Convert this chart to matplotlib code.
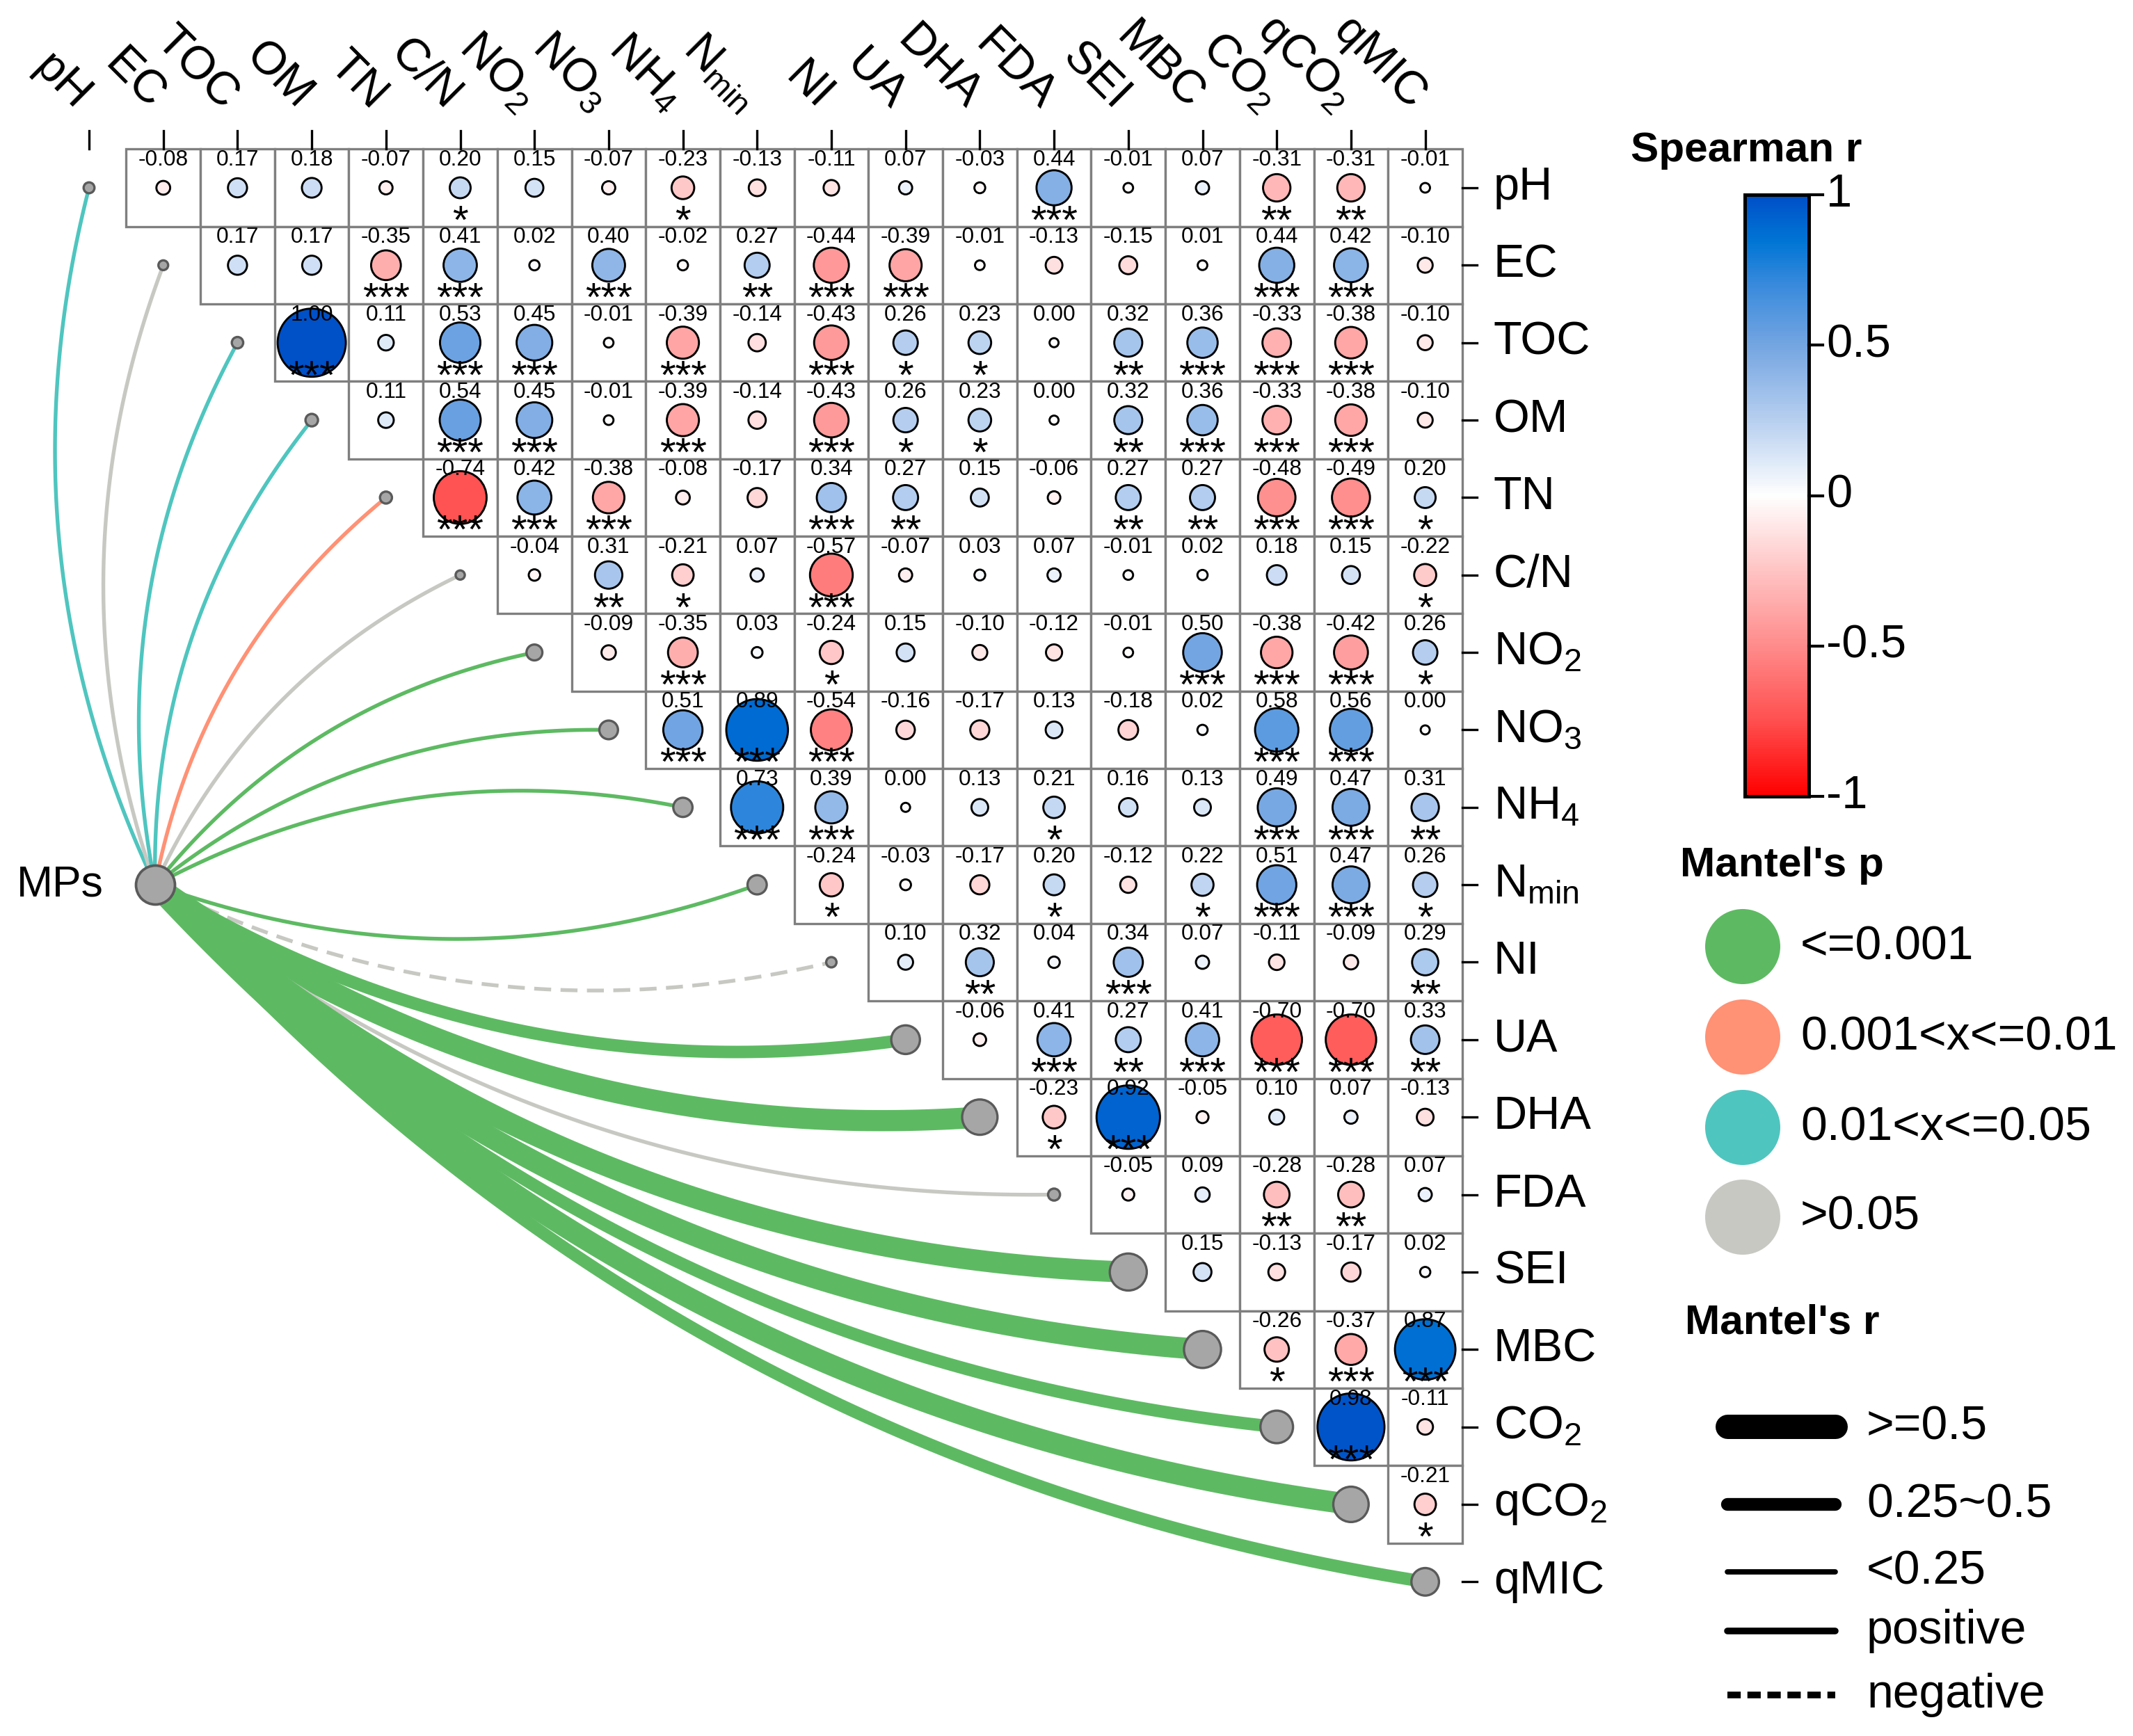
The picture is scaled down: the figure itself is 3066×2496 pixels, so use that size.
import numpy as np
import matplotlib
matplotlib.use("Agg")
import matplotlib.pyplot as plt
from matplotlib.colors import LinearSegmentedColormap
from matplotlib.patches import Rectangle

plt.rcParams["font.family"] = ["Liberation Sans", "DejaVu Sans"]
plt.rcParams["mathtext.fontset"] = "custom"
plt.rcParams["mathtext.rm"] = "Liberation Sans"
plt.rcParams["mathtext.it"] = "Liberation Sans:italic"
plt.rcParams["mathtext.default"] = "regular"

# ---- data ---------------------------------------------------------------
VARS = ["pH", "EC", "TOC", "OM", "TN", "C/N", "NO$_2$", "NO$_3$", "NH$_4$",
        "N$_{min}$", "NI", "UA", "DHA", "FDA", "SEI", "MBC", "CO$_2$",
        "qCO$_2$", "qMIC"]

# Spearman r, upper triangle: row i holds columns i+1 .. 18
R_ROWS = [
    [-0.08, 0.17, 0.18, -0.07, 0.20, 0.15, -0.07, -0.23, -0.13, -0.11, 0.07, -0.03, 0.44, -0.01, 0.07, -0.31, -0.31, -0.01],
    [0.17, 0.17, -0.35, 0.41, 0.02, 0.40, -0.02, 0.27, -0.44, -0.39, -0.01, -0.13, -0.15, 0.01, 0.44, 0.42, -0.10],
    [1.00, 0.11, 0.53, 0.45, -0.01, -0.39, -0.14, -0.43, 0.26, 0.23, 0.00, 0.32, 0.36, -0.33, -0.38, -0.10],
    [0.11, 0.54, 0.45, -0.01, -0.39, -0.14, -0.43, 0.26, 0.23, 0.00, 0.32, 0.36, -0.33, -0.38, -0.10],
    [-0.74, 0.42, -0.38, -0.08, -0.17, 0.34, 0.27, 0.15, -0.06, 0.27, 0.27, -0.48, -0.49, 0.20],
    [-0.04, 0.31, -0.21, 0.07, -0.57, -0.07, 0.03, 0.07, -0.01, 0.02, 0.18, 0.15, -0.22],
    [-0.09, -0.35, 0.03, -0.24, 0.15, -0.10, -0.12, -0.01, 0.50, -0.38, -0.42, 0.26],
    [0.51, 0.89, -0.54, -0.16, -0.17, 0.13, -0.18, 0.02, 0.58, 0.56, 0.00],
    [0.73, 0.39, 0.00, 0.13, 0.21, 0.16, 0.13, 0.49, 0.47, 0.31],
    [-0.24, -0.03, -0.17, 0.20, -0.12, 0.22, 0.51, 0.47, 0.26],
    [0.10, 0.32, 0.04, 0.34, 0.07, -0.11, -0.09, 0.29],
    [-0.06, 0.41, 0.27, 0.41, -0.70, -0.70, 0.33],
    [-0.23, 0.92, -0.05, 0.10, 0.07, -0.13],
    [-0.05, 0.09, -0.28, -0.28, 0.07],
    [0.15, -0.13, -0.17, 0.02],
    [-0.26, -0.37, 0.87],
    [0.98, -0.11],
    [-0.21],
]
STAR_ROWS = [
    ["", "", "", "", "*", "", "", "*", "", "", "", "", "***", "", "", "**", "**", ""],
    ["", "", "***", "***", "", "***", "", "**", "***", "***", "", "", "", "", "***", "***", ""],
    ["***", "", "***", "***", "", "***", "", "***", "*", "*", "", "**", "***", "***", "***", ""],
    ["", "***", "***", "", "***", "", "***", "*", "*", "", "**", "***", "***", "***", ""],
    ["***", "***", "***", "", "", "***", "**", "", "", "**", "**", "***", "***", "*"],
    ["", "**", "*", "", "***", "", "", "", "", "", "", "", "*"],
    ["", "***", "", "*", "", "", "", "", "***", "***", "***", "*"],
    ["***", "***", "***", "", "", "", "", "", "***", "***", ""],
    ["***", "***", "", "", "*", "", "", "***", "***", "**"],
    ["*", "", "", "*", "", "*", "***", "***", "*"],
    ["", "**", "", "***", "", "", "", "**"],
    ["", "***", "**", "***", "***", "***", "**"],
    ["*", "***", "", "", "", ""],
    ["", "", "**", "**", ""],
    ["", "", "", ""],
    ["*", "***", "***"],
    ["***", ""],
    ["*"],
]

# Mantel test of MPs against each variable
MANTEL_R = [0.07, 0.05, 0.08, 0.10, 0.09, 0.04, 0.16, 0.21, 0.22, 0.22, -0.06,
            0.39, 0.51, 0.09, 0.54, 0.54, 0.46, 0.51, 0.37]
MANTEL_P = [2, 3, 2, 2, 1, 3, 0, 0, 0, 0, 3, 0, 0, 3, 0, 0, 0, 0, 0]
P_LABELS = ["<=0.001", "0.001<x<=0.01", "0.01<x<=0.05", ">0.05"]
P_COLORS = ["#5DBA62", "#FF9175", "#4FC5BF", "#C8C8C3"]
R_LABELS = [">=0.5", "0.25~0.5", "<0.25", "positive", "negative"]

# ---- layout -------------------------------------------------------------
W, H, DPI = 3066, 2496, 300
PX = DPI / 72.0
X0, CW = 128.0, 106.7      # pixel centre of first column, column width
Y0, RH = 270.0, 111.35     # pixel centre of first row, row height
SRC = (0.89, 9.0)          # MPs node, in cell units

cmap = LinearSegmentedColormap.from_list("spr", [
    (0.0, "#FF0000"), (0.125, "#FF5050"), (0.25, "#FF8C8C"), (0.375, "#FFC4C4"),
    (0.5, "#FFFFFF"), (0.625, "#B8D0F0"), (0.75, "#75A6E2"), (0.85, "#3A8BDD"),
    (0.925, "#0075D5"), (1.0, "#0050C8")])


def to_x(p):
    return (p - X0) / CW


def to_y(p):
    return (p - Y0) / RH


fig = plt.figure(figsize=(W / DPI, H / DPI), dpi=DPI)
ax = fig.add_axes([0, 0, 1, 1])
ax.axis("off")

# correlation cells
xs, ys, rs = [], [], []
for i, row in enumerate(R_ROWS):
    for k, r in enumerate(row):
        j = i + 1 + k
        ax.add_patch(Rectangle((j - 0.5, i - 0.5), 1, 1, fc="white",
                               ec="#7F7F7F", lw=0.8, zorder=1))
        xs.append(j); ys.append(i); rs.append(r)
        ax.text(j, i - 0.36, f"{r:.2f}", ha="center", va="center",
                fontsize=7.6, zorder=5)
        if STAR_ROWS[i][k]:
            ax.text(j, i + 0.59, STAR_ROWS[i][k], ha="center", va="baseline",
                    fontsize=14, zorder=5)
rs = np.array(rs)
ax.scatter(xs, ys, s=((13 + 85 * np.abs(rs)) / PX) ** 2, c=rs, cmap=cmap,
           vmin=-1, vmax=1, edgecolors="black", linewidths=0.7, zorder=3)

# axis ticks and labels
n = len(VARS)
for k in range(n):
    ax.plot([k, k], [-0.5, -0.5 - 0.24], color="black", lw=0.8, zorder=2)
    ax.plot([n - 0.5, n - 0.5 + 0.2], [k, k], color="black", lw=0.8, zorder=2)
    ax.text(k - 0.09, to_y(148), VARS[k], rotation=-45, rotation_mode="anchor",
            ha="right", va="center", fontsize=16)
    ax.text(n - 0.5 + 0.42, k, VARS[k], ha="left", va="center", fontsize=16)


# mantel links
def curve(p0, p1, bend, m=120):
    p0, p1 = np.asarray(p0, float), np.asarray(p1, float)
    d = p1 - p0
    ctrl = (p0 + p1) / 2 + bend * np.array([d[1], -d[0]])
    t = np.linspace(0, 1, m)[:, None]
    return (1 - t) ** 2 * p0 + 2 * (1 - t) * t * ctrl + t ** 2 * p1


src_px = (X0 + CW * SRC[0], Y0 + RH * SRC[1])
for k in range(n):
    end_px = (X0 + CW * k, Y0 + RH * k)
    sign = 1 if k < SRC[1] else -1
    pts = curve(src_px, end_px, 0.18 * sign)
    r = MANTEL_R[k]
    lw = 7.3 if abs(r) >= 0.5 else (4.3 if abs(r) >= 0.25 else 1.3)
    ls = (0, (4.5, 2.5)) if r < 0 else "-"
    ax.plot(to_x(pts[:, 0]), to_y(pts[:, 1]), color=P_COLORS[MANTEL_P[k]],
            lw=lw, ls=ls, solid_capstyle="butt", zorder=2)

mr = np.abs(np.array(MANTEL_R))
ax.scatter(range(n), range(n), s=((10 + 80 * mr) / PX) ** 2, c="#A6A6A6",
           edgecolors="#5A5A5A", linewidths=0.8, zorder=6)
ax.scatter([SRC[0]], [SRC[1]], s=(56 / PX) ** 2, c="#A6A6A6",
           edgecolors="#5A5A5A", linewidths=0.9, zorder=6)
ax.text(SRC[0] - 0.7, SRC[1], "MPs", ha="right", va="center", fontsize=15)

ax.set_xlim(to_x(0), to_x(W))
ax.set_ylim(to_y(H), to_y(0))

# ---- legends (pixel coordinates) ---------------------------------------
lax = fig.add_axes([0, 0, 1, 1])
lax.axis("off")
lax.patch.set_alpha(0)

lax.text(2510, 217, "Spearman r", ha="center", va="center", fontsize=14.5,
         fontweight="bold")
cb_l, cb_r, cb_t, cb_b = 2508, 2600, 280, 1145
lax.imshow(np.linspace(1, -1, 256)[:, None], extent=(cb_l, cb_r, cb_b, cb_t),
           cmap=cmap, vmin=-1, vmax=1, aspect="auto", zorder=1)
lax.add_patch(Rectangle((cb_l, cb_t), cb_r - cb_l, cb_b - cb_t, fill=False,
                        ec="black", lw=1.2, zorder=2))
for v, lab in zip([1, 0.5, 0, -0.5, -1], ["1", "0.5", "0", "-0.5", "-1"]):
    y = cb_t + (1 - v) / 2 * (cb_b - cb_t)
    lax.plot([cb_r, cb_r + 20], [y, y], color="black", lw=1.0)
    lax.text(cb_r + 25, y, lab, ha="left", va="center", fontsize=16)

lax.text(2561, 1244, "Mantel's p", ha="center", va="center", fontsize=14.5,
         fontweight="bold")
p_y = [1361, 1491, 1621, 1750]
lax.scatter([2505] * 4, p_y, s=(108 / PX) ** 2, c=P_COLORS, linewidths=0)
for y, lab in zip(p_y, P_LABELS):
    lax.text(2588, y, lab, ha="left", va="center", fontsize=16.3)

lax.text(2562, 1902, "Mantel's r", ha="center", va="center", fontsize=14.5,
         fontweight="bold")
r_y = [2051, 2163, 2260, 2345, 2437]
r_lw = [8.4, 4.4, 1.85, 2.3, 2.3]
r_ls = ["-", "-", "-", "-", (0, (2.0, 1.0))]
for y, lw, ls, lab in zip(r_y, r_lw, r_ls, R_LABELS):
    lax.plot([2483, 2638], [y, y], color="black", lw=lw, ls=ls,
             solid_capstyle="round", dash_capstyle="butt")
    lax.text(2683, y, lab, ha="left", va="center", fontsize=16.3)

lax.set_xlim(0, W)
lax.set_ylim(H, 0)

fig.savefig("out.png", dpi=DPI)
